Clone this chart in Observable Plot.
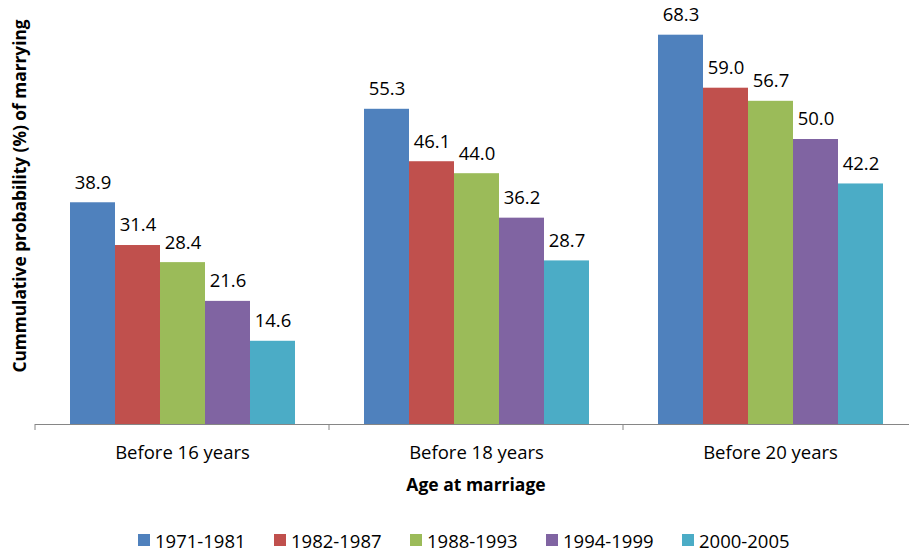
<!DOCTYPE html>
<html>
<head>
<meta charset="utf-8">
<script src="https://cdn.jsdelivr.net/npm/d3@7"></script>
<script src="https://cdn.jsdelivr.net/npm/@observablehq/plot@0.6"></script>
<style>
  body { margin: 0; background: #fff; }
  #wrap { position: relative; width: 909px; height: 553px; font-family: "Open Sans", sans-serif; }
  #legend { position: absolute; top: 528px; left: 138px; height: 24px; display: flex; align-items: center; }
  .item { width: 136px; display: flex; align-items: center; font-size: 18.5px; color: #000; white-space: nowrap; }
  .sw { width: 12px; height: 12px; margin-right: 5px; flex: none; }
</style>
</head>
<body>
<div id="wrap"></div>
<script>
const groups = ["Before 16 years", "Before 18 years", "Before 20 years"];
const periods = ["1971-1981", "1982-1987", "1988-1993", "1994-1999", "2000-2005"];
const colors = ["#4F81BD", "#C0504D", "#9BBB59", "#8064A2", "#4BACC6"];
const before16 = [38.9, 31.4, 28.4, 21.6, 14.6];
const before18 = [55.3, 46.1, 44.0, 36.2, 28.7];
const before20 = [68.3, 59.0, 56.7, 50.0, 42.2];
const xTitle = "Age at marriage";
const yTitle = "Cummulative probability (%) of marrying";

const seriesByGroup = [before16, before18, before20];
const data = [];
groups.forEach((g, gi) => periods.forEach((p, pi) => data.push({group: g, period: p, value: seriesByGroup[gi][pi]})));

const chart = Plot.plot({
  width: 909,
  height: 515,
  marginTop: 25,
  marginBottom: 91,
  marginLeft: 35,
  marginRight: 0,
  facet: {data, x: "group", marginTop: 0, marginBottom: 0, marginLeft: 0, marginRight: 0},
  fx: {domain: groups, range: [35, 917], padding: 0, label: null, tickSize: 0, tickPadding: 21, axis: "bottom"},
  x: {domain: periods, axis: null, paddingInner: 0, paddingOuter: 0.75},
  y: {domain: [0, 70], axis: null},
  color: {domain: periods, range: colors},
  style: {fontFamily: "Open Sans, sans-serif", fontSize: "18.5px", color: "#000", background: "#fff", overflow: "visible"},
  marks: [
    Plot.barY(data, {x: "period", y: "value", fill: "period"}),
    Plot.ruleY([0], {stroke: "#868686", strokeWidth: 1}),
    Plot.text(data, {x: "period", y: "value", text: d => d.value.toFixed(1), dy: -20, fontSize: 18.5, fill: "#000"})
  ]
});

const wrap = document.getElementById("wrap");
wrap.appendChild(chart);

const svg = d3.select(chart);
const fx = chart.scale("fx");
const base = 424;
const edges = groups.map(g => fx.apply(g));
edges.push(fx.apply(groups[groups.length - 1]) + fx.bandwidth);
svg.append("g").selectAll("line").data(edges).join("line")
  .attr("x1", d => d).attr("x2", d => d)
  .attr("y1", base).attr("y2", base + 6)
  .attr("stroke", "#868686").attr("stroke-width", 1);

svg.append("text")
  .attr("x", 476).attr("y", 484)
  .attr("text-anchor", "middle").attr("dominant-baseline", "central")
  .attr("font-weight", "bold").attr("font-size", "17.5px").attr("fill", "#000")
  .text(xTitle);

svg.append("text")
  .attr("transform", "translate(19,196) rotate(-90)")
  .attr("text-anchor", "middle").attr("dominant-baseline", "central")
  .attr("font-weight", "bold").attr("font-size", "17.3px").attr("fill", "#000")
  .text(yTitle);

const legend = d3.select(wrap).append("div").attr("id", "legend");
const items = legend.selectAll(".item").data(periods).join("div").attr("class", "item");
items.append("div").attr("class", "sw").style("background", (d, i) => colors[i]);
items.append("span").text(d => d);
</script>
</body>
</html>
